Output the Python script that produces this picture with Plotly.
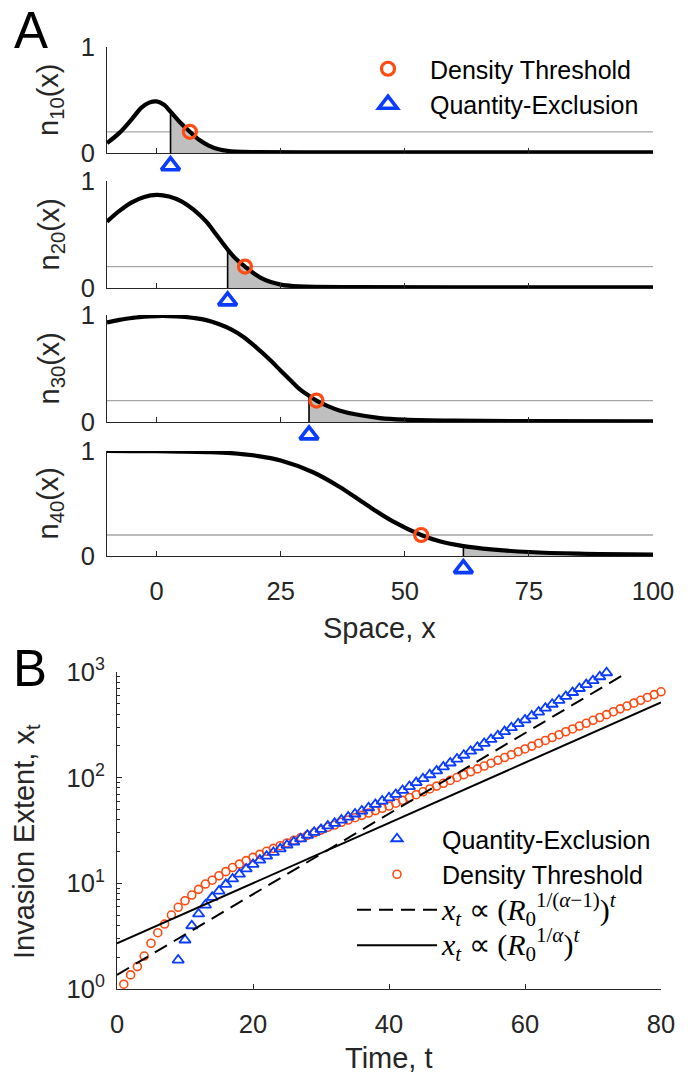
import plotly.graph_objects as go

FIG_W, FIG_H = 700, 1075
FONT = "Liberation Sans, Arial, Helvetica, sans-serif"
INK = "#262626"
BLUE = "#0A3CFF"
ORANGE = "#FF4A12"
SHADE = "#BFBFBF"
THRESH_GREY = "#A6A6A6"

# ---------------- Panel A: density profiles n_t(x) ----------------
gen_labels = ["10", "20", "30", "40"]

space_t10 = [-10, -7.5, -5, -3, -1.5, 0, 1.5, 2.8, 4.5, 6.7, 8.7, 10.5, 12.5, 15, 17.5,
             20, 30, 50, 75, 100]
dens_t10 = [0.094, 0.19, 0.32, 0.43, 0.475, 0.487, 0.455, 0.39, 0.30, 0.20, 0.12, 0.07,
            0.035, 0.016, 0.010, 0.008, 0.007, 0.007, 0.007, 0.007]

space_t20 = [-10, -7.5, -5, -2.5, 0, 2.5, 5, 7.5, 10, 12, 14.3, 16, 17.8, 19.5, 21, 23,
             25, 27.5, 30, 40, 60, 100]
dens_t20 = [0.62, 0.72, 0.80, 0.85, 0.87, 0.855, 0.81, 0.73, 0.62, 0.50, 0.36, 0.27,
            0.20, 0.14, 0.095, 0.055, 0.032, 0.018, 0.012, 0.008, 0.007, 0.007]

space_t30 = [-10, -7.5, -5, -2.5, 0, 2.5, 5, 7.5, 10, 12.5, 15, 17.5, 20, 22.5, 25, 27.5,
             29, 30.7, 32.2, 34.5, 36.8, 40, 45, 50, 60, 75, 100]
dens_t30 = [0.93, 0.955, 0.972, 0.985, 0.99, 0.99, 0.985, 0.972, 0.952, 0.915, 0.865,
            0.795, 0.70, 0.595, 0.48, 0.365, 0.30, 0.245, 0.20, 0.148, 0.108, 0.072,
            0.037, 0.022, 0.012, 0.008, 0.007]

space_t40 = [-10, -5, 0, 5, 10, 15, 20, 25, 31.4, 36.8, 42.2, 47.6, 53.3, 57, 61.8, 67.4,
             75, 85, 100]
dens_t40 = [1.0, 0.999, 0.998, 0.995, 0.99, 0.98, 0.955, 0.91, 0.80, 0.66, 0.49, 0.33,
            0.20, 0.14, 0.094, 0.063, 0.038, 0.022, 0.013]

threshold = 0.2
front_density = [6.7, 17.8, 32.2, 53.3]    # where n_t(x) falls to the threshold
front_quantity = [2.8, 14.3, 30.7, 61.8]   # quantity-exclusion front

profiles = [(space_t10, dens_t10), (space_t20, dens_t20),
            (space_t30, dens_t30), (space_t40, dens_t40)]

# ---------------- Panel B: invasion extent over time ----------------
time_dt = list(range(1, 81))
extent_dt = [1.11, 1.36, 1.63, 2.05, 2.71, 3.41, 4.12, 5.01, 5.93, 6.84,
             7.75, 8.77, 9.84, 10.7, 11.8, 12.9, 14.1, 15.2, 16.4, 17.6,
             18.8, 20.1, 21.4, 22.7, 24.1, 25.5, 27.0, 28.5, 30.1, 31.9,
             33.9, 35.6, 37.8, 39.7, 41.8, 44.0, 46.3, 48.8, 51.3, 53.9,
             57.3, 61.0, 64.9, 69.0, 73.5, 78.2, 83.2, 88.5, 94.2, 100.4,
             106.8, 113.7, 121, 128.8, 137, 146, 155, 165, 176, 187,
             199, 212, 225, 240, 255, 272, 289, 308, 327, 349,
             371, 395, 421, 448, 476, 507, 540, 574, 611, 650]

time_qe = list(range(9, 73))
extent_qe = [1.88, 2.91, 3.97, 5.13, 6.23, 7.37, 8.45, 9.78, 11.0, 12.2,
             13.7, 15.1, 16.6, 18.1, 19.6, 21.2, 23.0, 24.6, 26.4, 28.5,
             30.4, 32.4, 34.9, 37.0, 39.7, 42.4, 45.3, 48.3, 51.9, 55.9,
             60.1, 64.5, 69.5, 75.7, 82.4, 89.8, 97.8, 106.6, 116, 126.5,
             137.7, 150, 163, 178, 194, 211, 230, 250, 273, 297,
             324, 352, 384, 418, 455, 495, 540, 588, 640, 698,
             760, 828, 902, 984]

time_fit_alpha1 = [0, 75]
extent_fit_alpha1 = [1.36, 985]     # x_t ∝ (R0^(1/(α-1)))^t
time_fit_alpha = [0, 80]
extent_fit_alpha = [2.70, 515]      # x_t ∝ (R0^(1/α))^t

decade_vals = [1, 10, 100, 1000]
decade_text = ["10<sup>0</sup>", "10<sup>1</sup>", "10<sup>2</sup>", "10<sup>3</sup>"]
space_ticks = [0, 25, 50, 75, 100]


def px_x(p):
    return p / FIG_W


def px_y(p):
    return 1 - p / FIG_H


# pixel extents of the subplots (top, bottom)
panel_rows = [(47, 153), (181, 288), (315, 422), (451, 556)]
A_LEFT, A_RIGHT = 107, 653
B_LEFT, B_RIGHT, B_TOP, B_BOTTOM = 117, 661, 672, 989
MARKER_DROP = -0.12   # triangles sit just under the axis
DROP_ROOM = 26        # px of extra room under each profile panel for the triangles

MATH = "<span style=\"font-family:Liberation Serif;font-size:30px\">%s</span>"
label_fast = MATH % ("<i>x</i><sub><i>t</i></sub> ∝ (<i>R</i><sub>0</sub>"
                     "<sup>1/(<i>α</i>−1)</sup>)<sup><i>t</i></sup>")
label_slow = MATH % ("<i>x</i><sub><i>t</i></sub> ∝ (<i>R</i><sub>0</sub>"
                     "<sup>1/<i>α</i></sup>)<sup><i>t</i></sup>")

fig = go.Figure()

for i, (xs, ns) in enumerate(profiles):
    ax = "" if i == 0 else str(i + 1)
    xa, ya = "x" + ax, "y" + ax
    ya_drop = "y%d" % (6 + i)
    show = i == 0

    # threshold level
    fig.add_trace(go.Scatter(x=[xs[0], xs[-1]], y=[threshold, threshold], mode="lines",
                             line=dict(color=THRESH_GREY, width=1.3), xaxis=xa, yaxis=ya,
                             showlegend=False, hoverinfo="skip"))
    # shaded tail beyond the quantity-exclusion front
    k = xs.index(front_quantity[i])
    fig.add_trace(go.Scatter(x=xs[k:], y=ns[k:], mode="lines", fill="tozeroy",
                             fillcolor=SHADE, line=dict(width=0, shape="spline"),
                             xaxis=xa, yaxis=ya, showlegend=False, hoverinfo="skip"))
    fig.add_trace(go.Scatter(x=[xs[k], xs[k]], y=[0, ns[k]], mode="lines",
                             line=dict(color="black", width=1.6), xaxis=xa, yaxis=ya,
                             showlegend=False, hoverinfo="skip"))
    # density profile
    fig.add_trace(go.Scatter(x=xs, y=ns, mode="lines",
                             line=dict(color="black", width=4.2, shape="spline"),
                             xaxis=xa, yaxis=ya, showlegend=False, cliponaxis=False))
    # fronts
    fig.add_trace(go.Scatter(x=[front_density[i]], y=[threshold], mode="markers",
                             marker=dict(symbol="circle-open", size=13, color=ORANGE,
                                         line=dict(width=3.2, color=ORANGE)),
                             name="Density Threshold", legend="legend", legendrank=1,
                             showlegend=show, xaxis=xa, yaxis=ya, cliponaxis=False))
    fig.add_trace(go.Scatter(x=[front_quantity[i]], y=[MARKER_DROP], mode="markers",
                             marker=dict(symbol="triangle-up-open", size=16, color=BLUE,
                                         line=dict(width=3.6, color=BLUE)),
                             name="Quantity-Exclusion", legend="legend", legendrank=2,
                             showlegend=show, xaxis=xa, yaxis=ya_drop, cliponaxis=False))

# Panel B
fig.add_trace(go.Scatter(x=time_dt, y=extent_dt, mode="markers",
                         marker=dict(symbol="circle-open", size=8, color=ORANGE,
                                     line=dict(width=1.6, color=ORANGE)),
                         name="Density Threshold", legend="legend2", legendrank=2,
                         legendgroup="g2", xaxis="x5", yaxis="y5", cliponaxis=False))
fig.add_trace(go.Scatter(x=time_qe, y=extent_qe, mode="markers",
                         marker=dict(symbol="triangle-up-open", size=10, color=BLUE,
                                     line=dict(width=1.8, color=BLUE)),
                         name="Quantity-Exclusion", legend="legend2", legendrank=1,
                         legendgroup="g1", xaxis="x5", yaxis="y5", cliponaxis=False))
fig.add_trace(go.Scatter(x=time_fit_alpha1, y=extent_fit_alpha1, mode="lines",
                         line=dict(color="black", width=2, dash="14px,8px"),
                         name=label_fast, legend="legend2", legendrank=3, legendgroup="g3",
                         xaxis="x5", yaxis="y5"))
fig.add_trace(go.Scatter(x=time_fit_alpha, y=extent_fit_alpha, mode="lines",
                         line=dict(color="black", width=2),
                         name=label_slow, legend="legend2", legendrank=4, legendgroup="g4",
                         xaxis="x5", yaxis="y5"))

axis_common = dict(showgrid=False, zeroline=False, showline=True, linecolor=INK,
                   linewidth=1, ticks="inside", tickcolor=INK, ticklen=5, automargin=False,
                   tickfont=dict(family=FONT, size=25.5, color=INK), mirror=False)

layout = dict(
    width=FIG_W, height=FIG_H,
    margin=dict(l=0, r=0, t=0, b=0, autoexpand=False),
    paper_bgcolor="white", plot_bgcolor="rgba(0,0,0,0)",
    font=dict(family=FONT, color=INK),
    legend=dict(x=px_x(346), y=px_y(46), xanchor="left", yanchor="top",
                bgcolor="rgba(0,0,0,0)", font=dict(family=FONT, size=25, color="black"),
                itemwidth=74, traceorder="normal"),
    legend2=dict(x=px_x(352), y=px_y(816), xanchor="left", yanchor="top",
                 bgcolor="rgba(0,0,0,0)", font=dict(family=FONT, size=25, color="black"),
                 itemwidth=80, traceorder="grouped", tracegroupgap=0),
)

for i, (top, bottom) in enumerate(panel_rows):
    ax = "" if i == 0 else str(i + 1)
    layout["xaxis" + ax] = dict(axis_common, domain=[px_x(A_LEFT), px_x(A_RIGHT)],
                                range=[-10, 100], tickvals=space_ticks,
                                showticklabels=(i == 3), ticklabelstandoff=12,
                                anchor="y" + ax)
    layout["yaxis" + ax] = dict(axis_common, domain=[px_y(bottom), px_y(top)],
                                range=[0, 1], tickvals=[0, 1], ticklabelstandoff=6,
                                anchor="x" + ax)
    # hidden companion axis with the same scale, reaching a little below the panel
    h = bottom - top
    layout["yaxis%d" % (6 + i)] = dict(domain=[px_y(bottom + DROP_ROOM), px_y(top)],
                                       range=[-DROP_ROOM / h, 1], visible=False,
                                       automargin=False, anchor="x" + ax)

layout["xaxis5"] = dict(axis_common, domain=[px_x(B_LEFT), px_x(B_RIGHT)],
                        range=[0, 80], tickvals=[0, 20, 40, 60, 80],
                        ticklabelstandoff=12, anchor="y5")
layout["yaxis5"] = dict(axis_common, domain=[px_y(B_BOTTOM), px_y(B_TOP)],
                        type="log", range=[0, 3], tickvals=decade_vals,
                        ticktext=decade_text, ticklabelstandoff=6, anchor="x5",
                        minor=dict(ticks="inside", ticklen=3, tickcolor=INK,
                                   dtick="D1", showgrid=False))

annotations = [
    dict(text="A", x=px_x(31), y=px_y(30), font=dict(size=51, color="black")),
    dict(text="B", x=px_x(30), y=px_y(668), font=dict(size=51, color="black")),
    dict(text="Space, x", x=px_x(380), y=px_y(628), font=dict(size=29, color=INK)),
    dict(text="Time, t", x=px_x(389), y=px_y(1058), font=dict(size=29, color=INK)),
    dict(text="Invasion Extent, x<sub>t</sub>", x=px_x(26), y=px_y(842), textangle=-90,
         font=dict(size=29, color=INK)),
]
for i, (top, bottom) in enumerate(panel_rows):
    annotations.append(dict(text="n<sub>%s</sub>(x)" % gen_labels[i], x=px_x(50),
                            y=px_y((top + bottom) / 2), textangle=-90,
                            font=dict(size=29, color=INK)))
for a in annotations:
    a.update(xref="paper", yref="paper", showarrow=False, xanchor="center",
             yanchor="middle")
    a["font"]["family"] = FONT
layout["annotations"] = annotations

fig.update_layout(**layout)
fig.write_html("out.html")
